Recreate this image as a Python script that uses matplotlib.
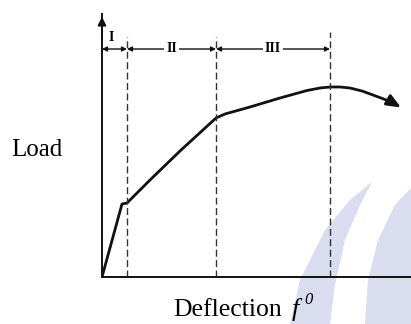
"""Load-deflection diagram of a beam: stages I, II, III."""
import matplotlib
matplotlib.use("Agg")
import matplotlib.pyplot as plt
from matplotlib.patches import Polygon

plt.rcParams["font.family"] = ["Liberation Serif", "DejaVu Serif"]

# curve (deflection, load), arbitrary units
deflection = [0, 20, 25, 48, 78, 114, 123, 148, 178, 205, 218, 228, 238, 248,
              260, 271, 283, 293]
load = [0, 73, 74, 97, 126, 159, 163, 170, 179, 186.5, 189, 190, 190, 189,
        186, 182, 177.5, 173]
arrow_end = (299, 169.5)

# stage boundaries on the deflection axis
stage_bounds = [0, 25, 114, 228]
stage_labels = ["I", "II", "III"]
dash_tops = [240, 240, 245]

W, H = 411, 324
fig = plt.figure(figsize=(W / 100, H / 100), dpi=100)

# faint watermark in the lower right
wm = fig.add_axes([0, 0, 1, 1], zorder=0)
wm.set_xlim(0, W)
wm.set_ylim(H, 0)
wm.axis("off")
c1 = [(290, 324), (300, 280), (325, 230), (350, 200), (372, 182), (360, 205),
      (345, 240), (335, 285), (330, 324)]
c2 = [(365, 324), (368, 280), (378, 240), (395, 205), (411, 188), (411, 324)]
for pts in (c1, c2):
    wm.add_patch(Polygon(pts, closed=True, color="#dadcef", lw=0))

x0, y0 = 102, 277
ax = fig.add_axes([x0 / W, (H - y0) / H, (W - x0) / W, (y0 - 14) / H], zorder=1)
ax.patch.set_alpha(0)
ax.set_xlim(0, W - x0)
ax.set_ylim(0, y0 - 14)
for s in ("top", "right"):
    ax.spines[s].set_visible(False)
for s in ("left", "bottom"):
    ax.spines[s].set_linewidth(1.4)
    ax.spines[s].set_color("#111111")
ax.set_xticks([])
ax.set_yticks([])

# y axis arrow head
ax.annotate("", xy=(0, y0 - 14), xytext=(0, y0 - 40),
            arrowprops=dict(arrowstyle="-|>", color="#111111", lw=1.4,
                            mutation_scale=12), annotation_clip=False)

ax.plot(deflection, load, color="#111111", lw=2.0, solid_capstyle="round",
        solid_joinstyle="round")
ax.annotate("", xy=arrow_end, xytext=(deflection[-1], load[-1]),
            arrowprops=dict(arrowstyle="-|>,head_length=0.6,head_width=0.25",
                            color="#111111", lw=2.0,
                            mutation_scale=14, shrinkA=0, shrinkB=0))

for xb, top in zip(stage_bounds[1:], dash_tops):
    ax.plot([xb, xb], [0, top], color="#333333", lw=1.0, ls=(0, (5, 2.5)))

ydim = y0 - 49
for i, lab in enumerate(stage_labels):
    a, b = stage_bounds[i], stage_bounds[i + 1]
    ax.annotate("", xy=(b, ydim), xytext=(a, ydim),
                arrowprops=dict(arrowstyle="<|-|>", color="#111111", lw=1.0,
                                mutation_scale=7, shrinkA=0, shrinkB=0))
    if lab == "I":
        ax.text((a + b) / 2 - 3, ydim + 5, lab, ha="center", va="bottom",
                fontsize=10, fontweight="bold")
    else:
        ax.text((a + b) / 2, ydim, lab, ha="center", va="center", fontsize=10,
                fontweight="bold", bbox=dict(fc="white", ec="none", pad=1.5))

fig.text(37 / W, 1 - 150 / H, "Load", ha="center", va="center", fontsize=18)
# x label: "Deflection f^0" with italic f and italic superscript 0
fig.text(173 / W, 1 - 316 / H, "Deflection", ha="left", va="baseline",
         fontsize=18.5)
fig.text(292 / W, 1 - 316 / H, "f", ha="left", va="baseline", fontsize=19,
         fontstyle="italic")
fig.text(304 / W, 1 - 304 / H, "0", ha="left", va="baseline", fontsize=12,
         fontstyle="italic")

fig.savefig("out.png", dpi=100)
